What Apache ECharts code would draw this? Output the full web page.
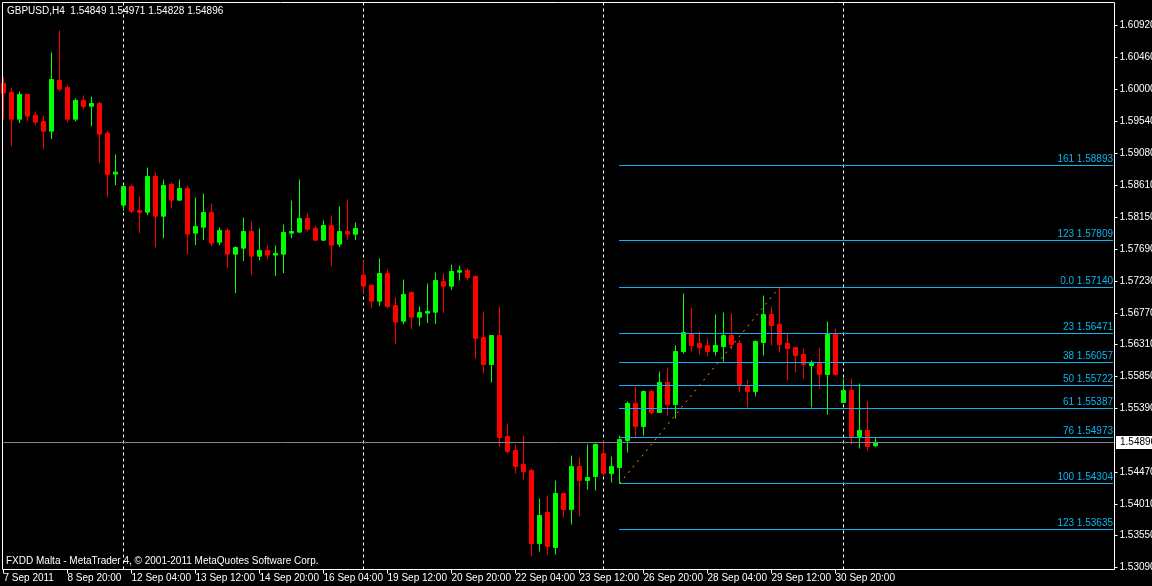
<!DOCTYPE html>
<html>
<head>
<meta charset="utf-8">
<script src="https://cdn.jsdelivr.net/npm/echarts@6/dist/echarts.min.js"></script>
<style>
html,body{margin:0;padding:0;background:#000;}
#chart{width:1152px;height:586px;}
</style>
</head>
<body>
<div id="chart"></div>
<script>
// ---------- data ----------
const symbolName = 'GBPUSD,H4';
const footerText = 'FXDD Malta - MetaTrader 4, \u00a9 2001-2011 MetaQuotes Software Corp.';

const categories = [
  '2011.09.07 12:00','2011.09.07 16:00','2011.09.07 20:00',
  '2011.09.08 00:00','2011.09.08 04:00','2011.09.08 08:00','2011.09.08 12:00','2011.09.08 16:00','2011.09.08 20:00',
  '2011.09.09 00:00','2011.09.09 04:00','2011.09.09 08:00','2011.09.09 12:00','2011.09.09 16:00','2011.09.09 20:00',
  '2011.09.12 00:00','2011.09.12 04:00','2011.09.12 08:00','2011.09.12 12:00','2011.09.12 16:00','2011.09.12 20:00',
  '2011.09.13 00:00','2011.09.13 04:00','2011.09.13 08:00','2011.09.13 12:00','2011.09.13 16:00','2011.09.13 20:00',
  '2011.09.14 00:00','2011.09.14 04:00','2011.09.14 08:00','2011.09.14 12:00','2011.09.14 16:00','2011.09.14 20:00',
  '2011.09.15 00:00','2011.09.15 04:00','2011.09.15 08:00','2011.09.15 12:00','2011.09.15 16:00','2011.09.15 20:00',
  '2011.09.16 00:00','2011.09.16 04:00','2011.09.16 08:00','2011.09.16 12:00','2011.09.16 16:00','2011.09.16 20:00',
  '2011.09.19 00:00','2011.09.19 04:00','2011.09.19 08:00','2011.09.19 12:00','2011.09.19 16:00','2011.09.19 20:00',
  '2011.09.20 00:00','2011.09.20 04:00','2011.09.20 08:00','2011.09.20 12:00','2011.09.20 16:00','2011.09.20 20:00',
  '2011.09.21 00:00','2011.09.21 04:00','2011.09.21 08:00','2011.09.21 12:00','2011.09.21 16:00','2011.09.21 20:00',
  '2011.09.22 00:00','2011.09.22 04:00','2011.09.22 08:00','2011.09.22 12:00','2011.09.22 16:00','2011.09.22 20:00',
  '2011.09.23 00:00','2011.09.23 04:00','2011.09.23 08:00','2011.09.23 12:00','2011.09.23 16:00','2011.09.23 20:00',
  '2011.09.26 00:00','2011.09.26 04:00','2011.09.26 08:00','2011.09.26 12:00','2011.09.26 16:00','2011.09.26 20:00',
  '2011.09.27 00:00','2011.09.27 04:00','2011.09.27 08:00','2011.09.27 12:00','2011.09.27 16:00','2011.09.27 20:00',
  '2011.09.28 00:00','2011.09.28 04:00','2011.09.28 08:00','2011.09.28 12:00','2011.09.28 16:00','2011.09.28 20:00',
  '2011.09.29 00:00','2011.09.29 04:00','2011.09.29 08:00','2011.09.29 12:00','2011.09.29 16:00','2011.09.29 20:00',
  '2011.09.30 00:00','2011.09.30 04:00','2011.09.30 08:00','2011.09.30 12:00','2011.09.30 16:00','2011.09.30 20:00',
  '2011.10.03 00:00','2011.10.03 04:00','2011.10.03 08:00','2011.10.03 12:00','2011.10.03 16:00'
];

// [open, high, low, close]
const bars = [
  [1.60087,1.60174,1.59562,1.59943],[1.59952,1.60024,1.59177,1.59567],[1.59567,1.59967,1.59509,1.59923],
  [1.59923,1.59925,1.59538,1.59610],[1.59625,1.59678,1.59480,1.59524],[1.59533,1.59620,1.59134,1.59394],
  [1.59394,1.60530,1.59278,1.60140],[1.60126,1.60848,1.59971,1.60000],[1.60024,1.60063,1.59524,1.59567],
  [1.59567,1.59866,1.59538,1.59837],[1.59837,1.59909,1.59711,1.59750],[1.59755,1.59894,1.59466,1.59793],
  [1.59793,1.59822,1.58931,1.59350],[1.59365,1.59399,1.58440,1.58768],[1.58773,1.59057,1.58614,1.58801],
  [1.58325,1.58596,1.58238,1.58594],[1.58594,1.58623,1.58209,1.58238],[1.58248,1.58450,1.57920,1.58219],
  [1.58224,1.58869,1.58180,1.58739],[1.58739,1.58797,1.57718,1.58166],[1.58166,1.58696,1.57848,1.58609],
  [1.58623,1.58652,1.58281,1.58397],[1.58397,1.58696,1.58395,1.58565],[1.58565,1.58609,1.57617,1.57906],
  [1.57920,1.58435,1.57747,1.58017],[1.58007,1.58493,1.57819,1.58219],[1.58219,1.58349,1.57732,1.57776],
  [1.57790,1.58002,1.57747,1.57959],[1.57959,1.57988,1.57415,1.57617],[1.57617,1.57728,1.57054,1.57713],
  [1.57704,1.58147,1.57516,1.57944],[1.57944,1.58089,1.57314,1.57588],[1.57588,1.57988,1.57530,1.57670],
  [1.57670,1.57742,1.57545,1.57603],[1.57603,1.57742,1.57299,1.57627],[1.57617,1.58045,1.57343,1.57930],
  [1.57920,1.58392,1.57848,1.57944],[1.57935,1.58696,1.57933,1.58132],[1.58132,1.58204,1.57949,1.57978],
  [1.57988,1.58031,1.57805,1.57819],[1.57819,1.58103,1.57805,1.58031],[1.58031,1.58175,1.57444,1.57747],
  [1.57761,1.58306,1.57718,1.57944],[1.57944,1.58407,1.57819,1.57906],[1.57906,1.58074,1.57819,1.57988],
  [1.57314,1.57516,1.57054,1.57155],[1.57169,1.57179,1.56837,1.56938],[1.56938,1.57554,1.56866,1.57337],
  [1.57337,1.57395,1.56837,1.56861],[1.56875,1.56991,1.56317,1.56635],[1.56649,1.57251,1.56606,1.57034],
  [1.57063,1.57078,1.56533,1.56707],[1.56707,1.56861,1.56577,1.56774],[1.56765,1.57193,1.56620,1.56789],
  [1.56779,1.57352,1.56606,1.57236],[1.57222,1.57337,1.56765,1.57155],[1.57155,1.57468,1.57097,1.57366],
  [1.57357,1.57453,1.57236,1.57381],[1.57381,1.57410,1.57236,1.57280],[1.57294,1.57309,1.56110,1.56399],
  [1.56413,1.56789,1.55893,1.56023],[1.56023,1.56444,1.55763,1.56442],[1.56442,1.56861,1.54839,1.54969],
  [1.54983,1.55171,1.54737,1.54766],[1.54781,1.54867,1.54449,1.54550],[1.54579,1.54997,1.54362,1.54477],
  [1.54492,1.54516,1.53250,1.53437],[1.53437,1.54087,1.53322,1.53842],[1.53885,1.54131,1.53278,1.53394],
  [1.53380,1.54347,1.53278,1.54160],[1.54160,1.54162,1.53813,1.53928],[1.53928,1.54709,1.53712,1.54550],
  [1.54550,1.54680,1.53827,1.54347],[1.54347,1.54867,1.54217,1.54391],[1.54405,1.54882,1.54203,1.54867],
  [1.54737,1.54925,1.54420,1.54449],[1.54448,1.54694,1.54319,1.54550],[1.54535,1.54997,1.54304,1.54940],
  [1.54925,1.55489,1.54752,1.55460],[1.55460,1.55705,1.54954,1.55127],[1.55127,1.55647,1.54997,1.55633],
  [1.55633,1.55662,1.55301,1.55330],[1.55330,1.55922,1.55328,1.55763],[1.55763,1.55980,1.55286,1.55445],
  [1.55445,1.56298,1.55243,1.56211],[1.56211,1.57049,1.56182,1.56485],[1.56471,1.56846,1.56211,1.56298],
  [1.56326,1.56500,1.56167,1.56269],[1.56298,1.56399,1.56139,1.56211],[1.56211,1.56745,1.56153,1.56298],
  [1.56283,1.56774,1.56066,1.56442],[1.56442,1.56760,1.56240,1.56312],[1.56326,1.56370,1.55619,1.55734],
  [1.55720,1.55806,1.55402,1.55633],[1.55633,1.56370,1.55561,1.56355],[1.56341,1.57020,1.56153,1.56745],
  [1.56745,1.56861,1.56298,1.56586],[1.56601,1.57140,1.56196,1.56312],[1.56326,1.56471,1.55792,1.56254],
  [1.56269,1.56272,1.55907,1.56153],[1.56168,1.56254,1.55821,1.56023],[1.56009,1.56081,1.55402,1.56037],
  [1.56037,1.56268,1.55676,1.55879],[1.55879,1.56644,1.55301,1.56456],[1.56456,1.56543,1.55864,1.55879],
  [1.55474,1.55821,1.55472,1.55647],[1.55647,1.55821,1.54867,1.54983],[1.54983,1.55749,1.54810,1.55070],
  [1.55070,1.55489,1.54781,1.54839],[1.54849,1.54971,1.54828,1.54896]
];

const xTickLabels = ['7 Sep 2011','8 Sep 20:00','12 Sep 04:00','13 Sep 12:00','14 Sep 20:00','16 Sep 04:00',
  '19 Sep 12:00','20 Sep 20:00','22 Sep 04:00','23 Sep 12:00','26 Sep 20:00','28 Sep 04:00','29 Sep 12:00','30 Sep 20:00'];
const yTickLabels = ['1.53090','1.53550','1.54010','1.54470','1.55390','1.55850','1.56310','1.56770',
  '1.57230','1.57690','1.58150','1.58610','1.59080','1.59540','1.60000','1.60460','1.60920'];

const fibLabels = ['161','123','0.0','23','38','50','61','76','100','123'];
const fibValues = [1.58893,1.57809,1.57140,1.56471,1.56057,1.55722,1.55387,1.54973,1.54304,1.53635];
const fibLow = 1.54304;   // level 100
const fibHigh = 1.57140;  // level 0.0

// ---------- derived ----------
const shiftBars = 30; // chart shift (empty space on right)
const allCats = categories.concat(Array.from({length: shiftBars}, (_, k) => '~' + k));
const labelStep = 8;
const yTickValues = yTickLabels.map(Number);
const candleData = bars.map(b => [b[0], b[3], b[2], b[1]]);
const last = bars[bars.length - 1];
const fibLowBar = bars.findIndex(b => b[2] === fibLow);
const fibHighBar = bars.findIndex(b => b[1] === fibHigh);

const FONT = '"Liberation Sans", Arial, sans-serif';
const FS = 10;
const FIB_COLOR = '#0ab4f0';

function isWeekStart(idx) {
  const s = categories[idx];
  if (!s || s.slice(11) !== '00:00') return false;
  const p = s.slice(0, 10).split('.').map(Number);
  return new Date(p[0], p[1] - 1, p[2]).getDay() === 1;
}
function isLabelTick(idx) {
  return idx % labelStep === 0 && idx < categories.length;
}

const chart = echarts.init(document.getElementById('chart'), null, {renderer: 'canvas'});
chart.setOption({
  backgroundColor: '#000',
  animation: false,
  textStyle: {fontFamily: FONT},
  grid: {left: 3.5, top: 2.5, width: 1112, height: 567, show: false, containLabel: false, outerBoundsMode: 'none'},
  xAxis: {
    type: 'category',
    data: allCats,
    boundaryGap: false,
    axisLine: {show: false},
    axisTick: {show: true, length: 4, interval: isLabelTick, lineStyle: {color: '#fff', width: 1}},
    axisLabel: {
      interval: isLabelTick,
      hideOverlap: false,
      formatter: (v, idx) => xTickLabels[idx / labelStep] || '',
      align: 'left', color: '#fff', fontSize: FS, fontFamily: FONT, margin: 4
    },
    splitLine: {show: true, interval: isWeekStart, lineStyle: {color: '#fff', width: 1, type: [3, 3]}}
  },
  yAxis: {
    type: 'value',
    position: 'right',
    offset: -1,
    min: 1.53062,
    max: 1.61252,
    axisLine: {show: false},
    splitLine: {show: false},
    axisTick: {show: true, length: 3, customValues: yTickValues, lineStyle: {color: '#fff'}},
    axisLabel: {customValues: yTickValues, formatter: v => v.toFixed(5), color: '#fff', fontSize: FS, fontFamily: FONT, margin: 5}
  },
  series: [
    {
      type: 'candlestick',
      data: candleData,
      barWidth: 4,
      silent: true,
      z: 3,
      itemStyle: {color: '#00ff00', color0: '#ff0000', borderColor: '#00ff00', borderColor0: '#ff0000', borderWidth: 1},
      markLine: {
        silent: true,
        symbol: 'none',
        animation: false,
        precision: 5,
        lineStyle: {color: '#7d8796', type: 'solid', width: 1},
        label: {
          show: true, position: 'end', distance: 0.5,
          formatter: p => Number(p.value).toFixed(5),
          backgroundColor: '#fff', color: '#000', fontSize: FS, fontFamily: FONT,
          padding: [1, 3, 1, 4], lineHeight: 11
        },
        data: [{yAxis: last[3]}]
      }
    },
    {
      type: 'line',
      data: [[fibLowBar, fibLow], [fibHighBar, fibHigh]],
      symbol: 'none',
      silent: true,
      z: 4,
      lineStyle: {color: '#ff9400', width: 1, type: [2, 5]}
    },
    {
      type: 'custom',
      silent: true,
      z: 4,
      data: fibValues.map((v, k) => [fibLowBar, v, k]),
      encode: {x: 0, y: 1},
      renderItem: (params, api) => {
        const p = api.coord([api.value(0), api.value(1)]);
        const cs = params.coordSys;
        const y = Math.floor(p[1]) + 0.5;
        const x1 = p[0] - 0.5;
        const x2 = cs.x + cs.width - 2.5;
        return {
          type: 'group',
          children: [
            {type: 'line', shape: {x1: x1, y1: y, x2: x2, y2: y}, style: {stroke: FIB_COLOR, lineWidth: 1}},
            {type: 'text', style: {
              text: fibLabels[api.value(2)] + ' ' + fibValues[api.value(2)].toFixed(5),
              x: x2, y: y - 6, align: 'right', verticalAlign: 'middle',
              fill: FIB_COLOR, font: FS + 'px ' + FONT
            }}
          ]
        };
      }
    }
  ],
  graphic: [
    {type: 'rect', silent: true, z: 50, shape: {x: 2.5, y: 2.5, width: 1112, height: 567},
      style: {fill: null, stroke: '#fff', lineWidth: 1}},
    {type: 'text', silent: true, z: 50, x: 7, y: 11,
      style: {text: symbolName + '  ' + last.map(v => v.toFixed(5)).join(' '), fill: '#fff', font: FS + 'px ' + FONT, verticalAlign: 'middle'}},
    {type: 'text', silent: true, z: 50, x: 6, y: 561,
      style: {text: footerText, fill: '#fff', font: '10px ' + FONT, verticalAlign: 'middle'}}
  ]
});
</script>
</body>
</html>
